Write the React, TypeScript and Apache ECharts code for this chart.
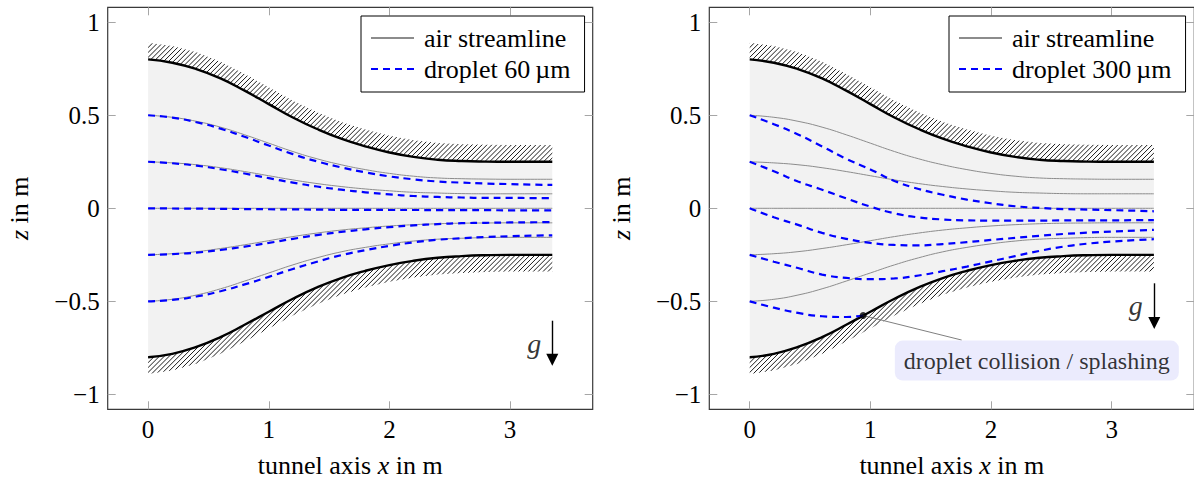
import React, { useEffect, useRef } from 'react';
import * as echarts from 'echarts';

const FONT = 'Liberation Serif';

// ---- axes ----
const X_MIN = -0.335;
const X_MAX = 3.685;
const Y_MIN = -1.08;
const Y_MAX = 1.08;
const X_TICKS = [0, 1, 2, 3];
const Y_TICKS = [-1, -0.5, 0, 0.5, 1];

// ---- tunnel geometry (x in m) ----
const X = [0, 0.2, 0.4, 0.6, 0.8, 1.0, 1.2, 1.4, 1.6, 1.8, 2.0, 2.2, 2.4, 2.6, 2.8, 3.0, 3.2, 3.35];
const UPPER_WALL = [0.8, 0.782, 0.748, 0.698, 0.632, 0.56, 0.488, 0.426, 0.374, 0.333, 0.3, 0.276, 0.261, 0.254, 0.251, 0.25, 0.25, 0.25];
const LOWER_WALL = [-0.8, -0.782, -0.745, -0.692, -0.626, -0.556, -0.486, -0.425, -0.375, -0.336, -0.305, -0.282, -0.266, -0.257, -0.252, -0.25, -0.25, -0.25];
const HATCH_DEPTH = 0.09;

// ---- air streamlines ----
const AIR_P050 = [0.5, 0.489, 0.4675, 0.436, 0.395, 0.35, 0.305, 0.266, 0.234, 0.208, 0.1875, 0.1725, 0.163, 0.159, 0.157, 0.156, 0.156, 0.156];
const AIR_P025 = [0.25, 0.244, 0.234, 0.218, 0.1975, 0.175, 0.1525, 0.133, 0.117, 0.104, 0.094, 0.086, 0.082, 0.079, 0.078, 0.078, 0.078, 0.078];
const AIR_000 = [0, 0, 0, 0, 0, 0, 0, 0, 0, 0, 0, 0, 0, 0, 0, 0, 0, 0];
const AIR_M025 = [-0.25, -0.244, -0.233, -0.216, -0.196, -0.174, -0.152, -0.133, -0.117, -0.105, -0.095, -0.088, -0.083, -0.08, -0.079, -0.078, -0.078, -0.078];
const AIR_M050 = [-0.5, -0.489, -0.466, -0.4325, -0.391, -0.3475, -0.304, -0.266, -0.234, -0.21, -0.191, -0.176, -0.166, -0.161, -0.1575, -0.156, -0.156, -0.156];

// ---- droplet 60 µm ----
const D60_P050 = [0.5, 0.487, 0.4625, 0.428, 0.384, 0.337, 0.291, 0.252, 0.22, 0.193, 0.1715, 0.1555, 0.144, 0.138, 0.133, 0.13, 0.127, 0.126];
const D60_P025 = [0.25, 0.242, 0.229, 0.21, 0.187, 0.162, 0.138, 0.117, 0.1, 0.086, 0.075, 0.066, 0.061, 0.058, 0.056, 0.056, 0.055, 0.055];
const D60_000 = [0, -0.001, -0.002, -0.003, -0.004, -0.005, -0.006, -0.007, -0.008, -0.008, -0.009, -0.009, -0.01, -0.01, -0.01, -0.011, -0.011, -0.011];
const D60_M025 = [-0.25, -0.246, -0.238, -0.224, -0.206, -0.186, -0.164, -0.144, -0.127, -0.113, -0.101, -0.092, -0.085, -0.08, -0.078, -0.076, -0.075, -0.074];
const D60_M050 = [-0.5, -0.492, -0.474, -0.4455, -0.409, -0.3685, -0.326, -0.287, -0.252, -0.225, -0.202, -0.183, -0.169, -0.161, -0.1545, -0.15, -0.147, -0.145];

// ---- droplet 300 µm ----
const D300_P050 = [0.5, 0.452, 0.397, 0.332, 0.266, 0.209, 0.147, 0.104, 0.073, 0.047, 0.027, 0.011, 0.002, -0.004, -0.007, -0.01, -0.013, -0.016];
const D300_P025 = [0.25, 0.199, 0.144, 0.1, 0.053, 0.009, -0.027, -0.049, -0.06, -0.065, -0.066, -0.066, -0.066, -0.065, -0.065, -0.065, -0.064, -0.064];
const D300_000 = [0, -0.048, -0.089, -0.132, -0.164, -0.186, -0.197, -0.199, -0.192, -0.182, -0.17, -0.159, -0.148, -0.138, -0.131, -0.125, -0.12, -0.116];
const D300_M025 = [-0.25, -0.287, -0.321, -0.356, -0.374, -0.381, -0.377, -0.361, -0.338, -0.313, -0.285, -0.257, -0.229, -0.206, -0.19, -0.179, -0.171, -0.166];
const X_D300_M050 = [0, 0.2, 0.4, 0.6, 0.8, 0.94];
const D300_M050 = [-0.5, -0.534, -0.562, -0.58, -0.584, -0.576];

// ---- annotations ----
const COLLISION = [0.94, -0.576];
const COLLISION_LINE_END = [1.757, -0.708];
const COLLISION_LABEL_POS = [2.38, -0.818];
const COLLISION_TEXT = 'droplet collision / splashing';
const G_LEFT_TEXT = [3.2, -0.729];
const G_LEFT_ARROW = [[3.35, -0.604], [3.35, -0.814]];
const G_RIGHT_TEXT = [3.2, -0.52];
const G_RIGHT_ARROW = [[3.353, -0.403], [3.353, -0.616]];

const AIR_NAME = 'air streamline';
const D60_NAME = 'droplet 60\u2009µm';
const D300_NAME = 'droplet 300\u2009µm';

const HATCH_STEP = 4.9;

const pairs = (xs: number[], ys: number[]) => xs.map((x, i) => [x, ys[i]]);

const fmtY = (v: number) => (v < 0 ? '\u2212' + String(-v) : String(v));

function line(name: string, xs: number[], ys: number[], ax: number, style: any, z: number, extra: any = {}) {
  return {
    type: 'line',
    name,
    xAxisIndex: ax,
    yAxisIndex: ax,
    data: pairs(xs, ys),
    symbol: 'none',
    smooth: 0.5,
    lineStyle: style,
    itemStyle: { color: style.color },
    z,
    silent: true,
    emphasis: { disabled: true },
    ...extra,
  };
}

function hatchSeries(ax: number) {
  return {
    type: 'custom',
    coordinateSystem: 'cartesian2d',
    xAxisIndex: ax,
    yAxisIndex: ax,
    data: [[0, 0], [0, 0]],
    silent: true,
    z: 1,
    renderItem: (params: any, api: any) => {
      const up = params.dataIndex === 0;
      const wall = up ? UPPER_WALL : LOWER_WALL;
      const off = up ? HATCH_DEPTH : -HATCH_DEPTH;
      const inner = X.map((x, i) => api.coord([x, wall[i]]));
      const outer = X.map((x, i) => api.coord([x, wall[i] + off])).reverse();
      const pts = inner.concat(outer);
      let minX = Infinity, maxX = -Infinity, minY = Infinity, maxY = -Infinity;
      pts.forEach((p: number[]) => {
        minX = Math.min(minX, p[0]);
        maxX = Math.max(maxX, p[0]);
        minY = Math.min(minY, p[1]);
        maxY = Math.max(maxY, p[1]);
      });
      const h = maxY - minY;
      const children: any[] = [];
      for (let sx = minX - h; sx <= maxX; sx += HATCH_STEP) {
        children.push({
          type: 'line',
          shape: { x1: sx, y1: maxY, x2: sx + h, y2: minY },
          style: { stroke: '#000', lineWidth: 0.9 },
        });
      }
      return {
        type: 'group',
        children,
        clipPath: { type: 'polygon', shape: { points: pts } },
      };
    },
  };
}

const AIR_STYLE = { color: '#8c8c8c', width: 1 };
const WALL_STYLE = { color: '#000', width: 2.4 };
const DROP_STYLE = { color: '#0000ff', width: 2.2, type: [7, 5] };

function panelSeries(ax: number, dropName: string, drops: [number[], number[]][]) {
  const s: any[] = [hatchSeries(ax)];
  s.push(line('wall-upper', X, UPPER_WALL, ax, WALL_STYLE, 3, { areaStyle: { color: '#f2f2f2', opacity: 1 } }));
  s.push(line('wall-lower', X, LOWER_WALL, ax, WALL_STYLE, 3, { areaStyle: { color: '#f2f2f2', opacity: 1 } }));
  [AIR_P050, AIR_P025, AIR_000, AIR_M025, AIR_M050].forEach((ys) => s.push(line(AIR_NAME, X, ys, ax, AIR_STYLE, 4)));
  drops.forEach(([xs, ys]) => s.push(line(dropName, xs, ys, ax, DROP_STYLE, 5)));
  return s;
}

const TICK = { show: true, inside: true, length: 8, lineStyle: { color: '#a6a6a6', width: 1 } };
const TICK_FONT = 25;
const NAME_FONT = 26;

const nameStyle = {
  fontFamily: FONT,
  fontSize: NAME_FONT,
  lineHeight: 24,
  color: '#000',
  rich: {
    n: { fontFamily: FONT, fontSize: NAME_FONT, lineHeight: 24, color: '#000' },
    i: { fontFamily: FONT, fontSize: NAME_FONT, lineHeight: 24, fontStyle: 'italic', color: '#000' },
  },
};

function xAxes(grid: number) {
  const base = {
    type: 'value',
    gridIndex: grid,
    min: X_MIN,
    max: X_MAX,
    axisLine: { show: false, onZero: false },
    splitLine: { show: false },
    axisTick: { ...TICK, customValues: X_TICKS },
  };
  return [
    {
      ...base,
      position: 'bottom',
      axisLabel: { show: true, customValues: X_TICKS, margin: 8, fontFamily: FONT, fontSize: TICK_FONT, color: '#000' },
      name: '{n|tunnel axis }{i|x}{n| in m}',
      nameLocation: 'middle',
      nameGap: 44,
      nameTextStyle: nameStyle,
    },
    { ...base, position: 'top', axisLabel: { show: false } },
  ];
}

function yAxes(grid: number) {
  const base = {
    type: 'value',
    gridIndex: grid,
    min: Y_MIN,
    max: Y_MAX,
    axisLine: { show: false, onZero: false },
    splitLine: { show: false },
    axisTick: { ...TICK, customValues: Y_TICKS },
  };
  return [
    {
      ...base,
      position: 'left',
      axisLabel: { show: true, customValues: Y_TICKS, margin: 8, fontFamily: FONT, fontSize: TICK_FONT, color: '#000', formatter: fmtY },
      name: '{i|z}{n| in m}',
      nameLocation: 'middle',
      nameGap: 76,
      nameRotate: 90,
      nameTextStyle: nameStyle,
    },
    { ...base, position: 'right', axisLabel: { show: false } },
  ];
}

function gSeries(ax: number, textPos: number[], arrow: number[][]) {
  return [
    {
      type: 'scatter',
      xAxisIndex: ax,
      yAxisIndex: ax,
      data: [textPos],
      symbolSize: 0,
      silent: true,
      z: 6,
      label: { show: true, position: 'inside', formatter: 'g', fontFamily: FONT, fontStyle: 'italic', fontSize: 28, color: '#000' },
    },
    {
      type: 'lines',
      coordinateSystem: 'cartesian2d',
      xAxisIndex: ax,
      yAxisIndex: ax,
      data: [{ coords: arrow }],
      symbol: ['none', 'triangle'],
      symbolSize: [8, 12],
      lineStyle: { color: '#000', width: 1.4, opacity: 1 },
      itemStyle: { color: '#000' },
      silent: true,
      z: 6,
    },
  ];
}

function legend(left: number, names: string[]) {
  return {
    data: names,
    left,
    top: 16,
    orient: 'vertical',
    selectedMode: false,
    itemWidth: 43,
    itemHeight: 14,
    itemGap: 3,
    padding: [8, 14, 9, 9],
    borderColor: '#000',
    borderWidth: 1,
    backgroundColor: '#fff',
    itemStyle: { opacity: 0 },
    textStyle: { fontFamily: FONT, fontSize: 26, color: '#000', lineHeight: 28, padding: [0, 0, 0, 5] },
  };
}

export default function App() {
  const ref = useRef<HTMLDivElement>(null);
  useEffect(() => {
    if (!ref.current) return;
    const chart = echarts.init(ref.current, undefined, { renderer: 'svg' });
    const gridBase = {
      top: 7.3,
      width: 485,
      height: 402,
      show: true,
      borderColor: '#3a3a3a',
      borderWidth: 1.2,
      backgroundColor: 'transparent',
      containLabel: false,
      outerBoundsMode: 'none',
    };
    const option: any = {
      animation: false,
      backgroundColor: '#fff',
      textStyle: { fontFamily: FONT },
      grid: [
        { ...gridBase, left: 107.7 },
        { ...gridBase, left: 709.3 },
      ],
      xAxis: [...xAxes(0), ...xAxes(1)],
      yAxis: [...yAxes(0), ...yAxes(1)],
      legend: [legend(361, [AIR_NAME, D60_NAME]), legend(949, [AIR_NAME, D300_NAME])],
      series: [
        ...panelSeries(0, D60_NAME, [
          [X, D60_P050],
          [X, D60_P025],
          [X, D60_000],
          [X, D60_M025],
          [X, D60_M050],
        ]),
        ...gSeries(0, G_LEFT_TEXT, G_LEFT_ARROW),
        ...panelSeries(2, D300_NAME, [
          [X, D300_P050],
          [X, D300_P025],
          [X, D300_000],
          [X, D300_M025],
          [X_D300_M050, D300_M050],
        ]),
        ...gSeries(2, G_RIGHT_TEXT, G_RIGHT_ARROW),
        {
          type: 'lines',
          coordinateSystem: 'cartesian2d',
          xAxisIndex: 2,
          yAxisIndex: 2,
          data: [{ coords: [COLLISION, COLLISION_LINE_END] }],
          symbol: 'none',
          lineStyle: { color: '#808080', width: 1, opacity: 1 },
          silent: true,
          z: 6,
        },
        {
          type: 'scatter',
          xAxisIndex: 2,
          yAxisIndex: 2,
          data: [COLLISION],
          symbol: 'circle',
          symbolSize: 7,
          itemStyle: { color: '#000' },
          silent: true,
          z: 7,
        },
        {
          type: 'scatter',
          xAxisIndex: 2,
          yAxisIndex: 2,
          data: [COLLISION_LABEL_POS],
          symbolSize: 0,
          silent: true,
          z: 8,
          label: {
            show: true,
            position: 'inside',
            formatter: COLLISION_TEXT,
            fontFamily: FONT,
            fontSize: 24,
            lineHeight: 26,
            color: '#000',
            backgroundColor: '#e6e6fc',
            borderRadius: 8,
            padding: [7, 9, 7, 9],
          },
        },
      ],
    };
    chart.setOption(option);
    return () => chart.dispose();
  }, []);
  return <div ref={ref} style={{ position: 'absolute', left: 0, top: 0, width: 1194, height: 479 }} />;
}
